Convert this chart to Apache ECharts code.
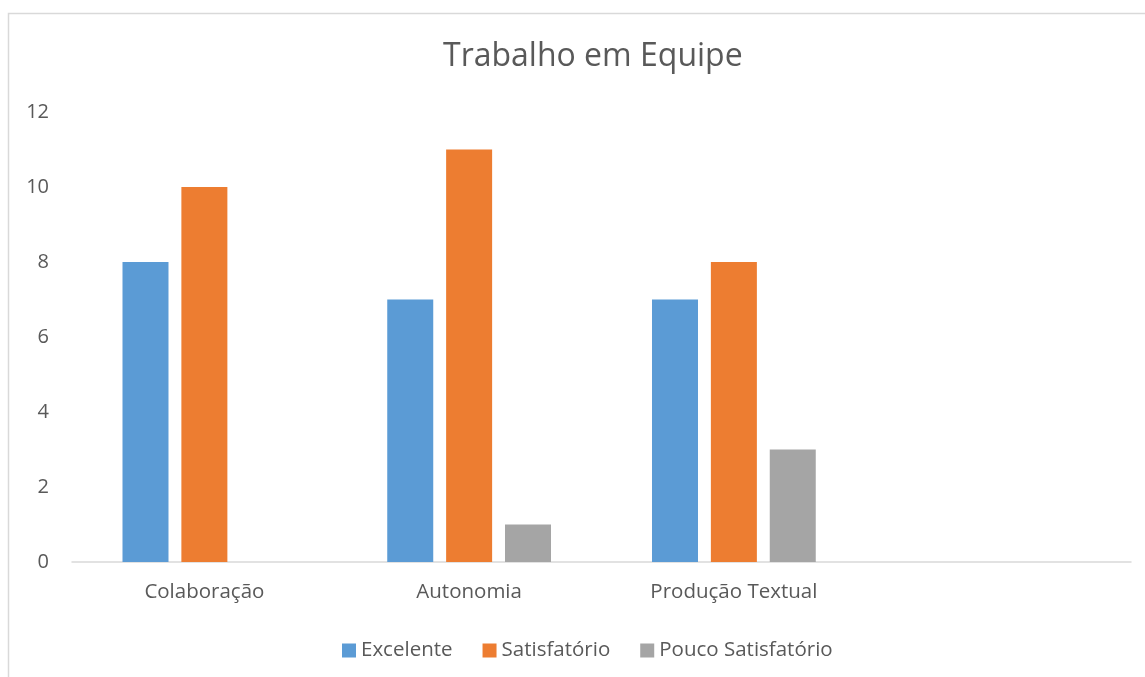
<!DOCTYPE html>
<html>
<head>
<meta charset="utf-8">
<script src="https://cdn.jsdelivr.net/npm/echarts@6/dist/echarts.min.js"></script>
<style>
  html, body { margin: 0; padding: 0; background: #fff; }
  #chart { width: 1145px; height: 677px; }
</style>
</head>
<body>
<div id="chart"></div>
<script>
const categories = ['Colaboração', 'Autonomia', 'Produção Textual', ''];
const excelente = [8, 7, 7, null];
const satisfatorio = [10, 11, 8, null];
const poucoSatisfatorio = [null, 1, 3, null];

const COLORS = {
  BLUE: '#5b9bd5',
  ORANGE: '#ed7d31',
  GREY: '#a5a5a5',
  TEXT: '#595959',
  LINE: '#d9d9d9',
};
const FONT = '"Open Sans", "Noto Sans", sans-serif';

const chart = echarts.init(document.getElementById('chart'), null, { renderer: 'canvas' });

const barSeries = (name, data, color) => ({
  name,
  type: 'bar',
  data,
  barWidth: 46,
  barGap: '28%',
  itemStyle: { color },
});

chart.setOption({
  animation: false,
  textStyle: { fontFamily: FONT },
  graphic: [{
    type: 'rect',
    shape: { x: 8.5, y: 13.5, width: 1200, height: 700 },
    style: { fill: 'none', stroke: COLORS.LINE, lineWidth: 1.5 },
    silent: true,
  }],
  title: {
    text: 'Trabalho em Equipe',
    left: 438,
    top: 36,
    textStyle: { color: COLORS.TEXT, fontSize: 32, fontWeight: 'normal', fontFamily: FONT },
  },
  legend: {
    top: 635,
    left: 337,
    itemWidth: 14,
    itemHeight: 14,
    itemGap: 30,
    icon: 'rect',
    textStyle: { color: COLORS.TEXT, fontSize: 20.5, fontFamily: FONT },
    data: ['Excelente', 'Satisfatório', 'Pouco Satisfatório'],
  },
  grid: { left: 72, right: 14, top: 112, bottom: 115, containLabel: false },
  xAxis: {
    type: 'category',
    data: categories,
    axisLine: { lineStyle: { color: COLORS.LINE, width: 1.5 } },
    axisTick: { show: false },
    axisLabel: { color: COLORS.TEXT, fontSize: 20.5, margin: 20, fontFamily: FONT },
  },
  yAxis: {
    type: 'value',
    min: 0,
    max: 12,
    interval: 2,
    axisLine: { show: false },
    axisTick: { show: false },
    splitLine: { show: false },
    axisLabel: { color: COLORS.TEXT, fontSize: 20, margin: 23, fontFamily: FONT },
  },
  series: [
    barSeries('Excelente', excelente, COLORS.BLUE),
    barSeries('Satisfatório', satisfatorio, COLORS.ORANGE),
    barSeries('Pouco Satisfatório', poucoSatisfatorio, COLORS.GREY),
  ],
});
</script>
</body>
</html>
